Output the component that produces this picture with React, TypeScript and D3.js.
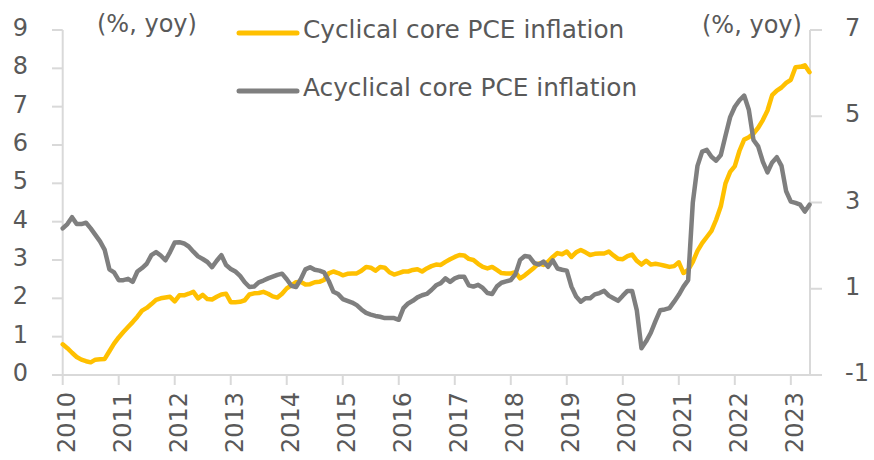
import * as d3 from "d3";

const WIDTH = 874;
const HEIGHT = 460;
const PLOT = { left: 62.7, right: 809.5, top: 30, bottom: 375 };
const FONT = "'DejaVu Sans', sans-serif";
const TEXT_COLOR = "#595959";
const AXIS_COLOR = "#d9d9d9";

const START_YEAR = 2010;
const YEAR_LABELS = [2010, 2011, 2012, 2013, 2014, 2015, 2016, 2017, 2018, 2019, 2020, 2021, 2022, 2023];
const LEFT_TICKS = [0, 1, 2, 3, 4, 5, 6, 7, 8, 9];
const RIGHT_TICKS = [-1, 1, 3, 5, 7];
const UNIT_LABEL = "(%, yoy)";
const SERIES_NAMES = ["Cyclical core PCE inflation", "Acyclical core PCE inflation"];
const SERIES_COLORS = ["#ffc000", "#7f7f7f"];

// monthly, Jan 2010 - May 2023, left axis
const CYCLICAL = [
  0.8, 0.7, 0.58, 0.47, 0.4, 0.36, 0.33, 0.4, 0.41, 0.42, 0.62, 0.82,
  0.98, 1.12, 1.25, 1.38, 1.52, 1.68, 1.75, 1.85, 1.96, 2.0, 2.02, 2.04,
  1.92, 2.08, 2.08, 2.12, 2.17, 2.0, 2.09, 1.98, 1.97, 2.04, 2.1, 2.12,
  1.9, 1.9, 1.91, 1.95, 2.1, 2.13, 2.14, 2.17, 2.12, 2.05, 2.02, 2.12,
  2.26, 2.34, 2.42, 2.43, 2.36, 2.37, 2.42, 2.43, 2.48, 2.65, 2.7, 2.66,
  2.6, 2.64, 2.65, 2.65, 2.72, 2.82, 2.8, 2.72, 2.82, 2.8, 2.68, 2.62,
  2.66, 2.7, 2.7, 2.74, 2.76, 2.7, 2.78, 2.84, 2.88, 2.87, 2.95, 3.02,
  3.08, 3.13, 3.12, 3.03, 3.0, 2.9, 2.82, 2.78, 2.82, 2.74, 2.66, 2.65,
  2.65, 2.68, 2.52, 2.6, 2.7, 2.8, 2.91, 2.87, 2.96, 3.08, 3.18, 3.15,
  3.22, 3.08, 3.2, 3.26, 3.2, 3.13, 3.16, 3.17, 3.17, 3.22, 3.12, 3.03,
  3.02, 3.1, 3.14, 2.98, 2.88, 2.98, 2.88, 2.9, 2.88, 2.85, 2.82, 2.84,
  2.94, 2.66, 2.74, 2.95, 3.24, 3.44, 3.6, 3.76, 4.05, 4.4, 5.0, 5.3,
  5.45, 5.85, 6.14, 6.2, 6.3, 6.45, 6.65, 6.9, 7.3, 7.42, 7.5, 7.62,
  7.7, 8.03, 8.04, 8.08, 7.9,
];

// monthly, Jan 2010 - May 2023, right axis
const ACYCLICAL = [
  2.4, 2.5, 2.66, 2.5, 2.5, 2.53, 2.4, 2.25, 2.1, 1.9, 1.45, 1.38,
  1.2, 1.2, 1.23, 1.16, 1.4, 1.48, 1.58, 1.78, 1.85, 1.77, 1.66, 1.85,
  2.07, 2.08, 2.05, 1.98, 1.86, 1.75, 1.69, 1.62, 1.5, 1.65, 1.78, 1.55,
  1.46, 1.4, 1.3, 1.15, 1.04, 1.05, 1.15, 1.19, 1.24, 1.28, 1.32, 1.35,
  1.22, 1.07, 1.04, 1.22, 1.45, 1.5, 1.44, 1.42, 1.38, 1.18, 0.93, 0.88,
  0.76, 0.72, 0.68, 0.62, 0.52, 0.44, 0.4, 0.37, 0.35, 0.32, 0.32, 0.32,
  0.28, 0.55, 0.66, 0.72, 0.8, 0.85, 0.88, 0.97, 1.08, 1.13, 1.24, 1.16,
  1.24, 1.28, 1.28, 1.08, 1.05, 1.09, 1.02, 0.9, 0.88, 1.05, 1.14, 1.17,
  1.2, 1.34, 1.67, 1.76, 1.74, 1.6, 1.56, 1.63, 1.51, 1.66, 1.47, 1.44,
  1.42, 1.05, 0.82, 0.7, 0.78, 0.78, 0.87, 0.9, 0.95, 0.84, 0.78, 0.72,
  0.84, 0.95, 0.95, 0.5, -0.38, -0.22, -0.02, 0.25, 0.5, 0.52, 0.55, 0.7,
  0.86, 1.05, 1.2, 3.0, 3.85, 4.18, 4.22, 4.06, 3.97, 4.1, 4.55, 4.98,
  5.22, 5.37, 5.48, 5.15, 4.45, 4.3, 3.95, 3.7, 3.93, 4.05, 3.85, 3.26,
  3.02, 2.99, 2.95, 2.79, 2.95,
];

const App = () => {
  const xScale = d3
    .scaleLinear()
    .domain([0, CYCLICAL.length - 1])
    .range([PLOT.left, PLOT.right]);
  const yLeft = d3.scaleLinear().domain([0, 9]).range([PLOT.bottom, PLOT.top]);
  const yRight = d3.scaleLinear().domain([-1, 7]).range([PLOT.bottom, PLOT.top]);

  const cyclicalPath = d3
    .line<number>()
    .x((d, i) => xScale(i))
    .y((d) => yLeft(d))(CYCLICAL);
  const acyclicalPath = d3
    .line<number>()
    .x((d, i) => xScale(i))
    .y((d) => yRight(d))(ACYCLICAL);

  const textStyle = { fontFamily: FONT, fontSize: 24, fill: TEXT_COLOR };

  return (
    <svg
      width={WIDTH}
      height={HEIGHT}
      style={{ position: "absolute", left: 0, top: 0, background: "#fff" }}
    >
      {/* axes */}
      <g stroke={AXIS_COLOR} strokeWidth={2}>
        <line x1={PLOT.left} x2={PLOT.left} y1={PLOT.top} y2={PLOT.bottom} />
        <line x1={810} x2={810} y1={PLOT.top} y2={PLOT.bottom} />
        <line x1={PLOT.left} x2={810} y1={PLOT.bottom} y2={PLOT.bottom} />
        {LEFT_TICKS.map((t) => (
          <line key={"l" + t} x1={52} x2={PLOT.left} y1={yLeft(t)} y2={yLeft(t)} />
        ))}
        {RIGHT_TICKS.map((t) => (
          <line key={"r" + t} x1={810} x2={822} y1={yRight(t)} y2={yRight(t)} />
        ))}
        {YEAR_LABELS.map((yr) => (
          <line
            key={"x" + yr}
            x1={xScale((yr - START_YEAR) * 12)}
            x2={xScale((yr - START_YEAR) * 12)}
            y1={PLOT.bottom}
            y2={PLOT.bottom + 10}
          />
        ))}
      </g>

      {/* tick labels */}
      <g style={textStyle}>
        {LEFT_TICKS.map((t) => (
          <text key={"lt" + t} x={28} y={yLeft(t) + 6} textAnchor="end">
            {t}
          </text>
        ))}
        {RIGHT_TICKS.map((t) => (
          <text key={"rt" + t} x={845} y={yRight(t) + 6}>
            {t}
          </text>
        ))}
        {YEAR_LABELS.map((yr) => (
          <text
            key={"xt" + yr}
            textAnchor="end"
            transform={`translate(${xScale((yr - START_YEAR) * 12) + 12},392) rotate(-90)`}
          >
            {yr}
          </text>
        ))}
        <text x={97} y={32}>{UNIT_LABEL}</text>
        <text x={702} y={33}>{UNIT_LABEL}</text>
      </g>

      {/* series */}
      <path
        d={cyclicalPath ?? ""}
        fill="none"
        stroke={SERIES_COLORS[0]}
        strokeWidth={4.5}
        strokeLinejoin="round"
        strokeLinecap="round"
      />
      <path
        d={acyclicalPath ?? ""}
        fill="none"
        stroke={SERIES_COLORS[1]}
        strokeWidth={4.5}
        strokeLinejoin="round"
        strokeLinecap="round"
      />

      {/* legend */}
      {SERIES_NAMES.map((name, i) => (
        <g key={name} transform={`translate(0,${i * 58})`}>
          <line
            x1={239}
            x2={297}
            y1={33}
            y2={33}
            stroke={SERIES_COLORS[i]}
            strokeWidth={5}
            strokeLinecap="round"
          />
          <text x={303} y={38} style={{ ...textStyle, fontSize: 24.8 }}>
            {name}
          </text>
        </g>
      ))}
    </svg>
  );
};

export default App;
